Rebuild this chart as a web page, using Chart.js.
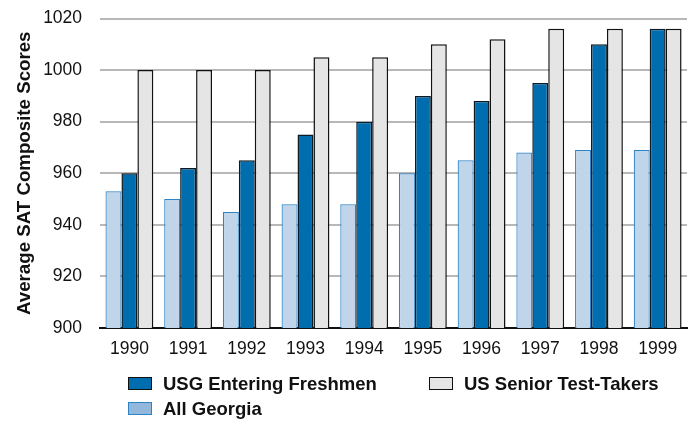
<!DOCTYPE html>
<html>
<head>
<meta charset="utf-8">
<script src="https://cdn.jsdelivr.net/npm/chart.js@4/dist/chart.umd.min.js"></script>
<style>
  html,body{margin:0;padding:0;background:#fff;}
  #wrap{position:relative;width:693px;height:421px;}
  canvas{display:block;}
  #legend{position:absolute;left:0;top:0;width:693px;height:421px;pointer-events:none;
    font-family:"Liberation Sans",Arial,sans-serif;font-weight:bold;font-size:18.5px;color:#111;}
  .item{position:absolute;display:flex;align-items:center;white-space:nowrap;height:21px;}
  .box{width:24px;height:13px;margin-right:11px;box-sizing:border-box;}
</style>
</head>
<body>
<div id="wrap">
  <canvas id="c" width="693" height="421"></canvas>
  <div id="legend"></div>
</div>
<script>
const categories = ["1990","1991","1992","1993","1994","1995","1996","1997","1998","1999"];
const allGeorgia = [953, 950, 945, 948, 948, 960, 965, 968, 969, 969];
const usgFreshmen = [960, 962, 965, 975, 980, 990, 988, 995, 1010, 1016];
const usSenior = [1000, 1000, 1000, 1005, 1005, 1010, 1012, 1016, 1016, 1016];
const yTicks = [900, 920, 940, 960, 980, 1000, 1020];
const seriesNames = ["All Georgia", "USG Entering Freshmen", "US Senior Test-Takers"];

const FONT = '"Liberation Sans", Arial, sans-serif';

new Chart(document.getElementById('c'), {
  type: 'bar',
  data: {
    labels: categories,
    datasets: [
      { label: seriesNames[0], data: allGeorgia, backgroundColor: '#c1d5ea', borderColor: '#2c84c4', borderWidth: 1.2 },
      { label: seriesNames[1], data: usgFreshmen, backgroundColor: '#006dae', borderColor: '#0a1a26', borderWidth: 1.5 },
      { label: seriesNames[2], data: usSenior, backgroundColor: '#e5e5e5', borderColor: '#111111', borderWidth: 1.5 }
    ]
  },
  options: {
    responsive: false,
    animation: false,
    events: [],
    layout: { padding: { top: 18.5, right: 6, bottom: 51, left: 13.8 } },
    datasets: { bar: { barPercentage: 1.0, categoryPercentage: 0.815, borderSkipped: 'bottom' } },
    plugins: { legend: { display: false }, tooltip: { enabled: false } },
    scales: {
      x: {
        grid: { display: false, drawTicks: false },
        border: { display: true, color: '#111', width: 2 },
        ticks: { color: '#111', font: { family: FONT, size: 17.5 }, padding: 10.5 }
      },
      y: {
        min: 900, max: 1020,
        afterBuildTicks: (axis) => { axis.ticks = yTicks.map(v => ({ value: v })); },
        grid: { color: '#b8b8b8', lineWidth: 2, drawTicks: true, tickLength: 15, tickColor: 'rgba(0,0,0,0)' },
        border: { display: false },
        ticks: { color: '#111', font: { family: FONT, size: 17.5 }, padding: 3,
                 callback: (v) => String(v) },
        title: { display: true, text: 'Average SAT Composite Scores', color: '#111',
                 font: { family: FONT, size: 18.7, weight: 'bold' }, padding: { top: 0, bottom: 3.9 } }
      }
    }
  }
});

// HTML legend (column-major layout like the reference)
const legendItems = [
  { name: seriesNames[1], fill: '#006dae', border: '#111', left: 128, top: 373 },
  { name: seriesNames[0], fill: '#94b8dc', border: '#2c84c4', left: 128, top: 398 },
  { name: seriesNames[2], fill: '#e5e5e5', border: '#111', left: 429, top: 373 }
];
const lg = document.getElementById('legend');
legendItems.forEach(it => {
  const d = document.createElement('div');
  d.className = 'item';
  d.style.left = it.left + 'px';
  d.style.top = it.top + 'px';
  const b = document.createElement('span');
  b.className = 'box';
  b.style.background = it.fill;
  b.style.border = '1.5px solid ' + it.border;
  const t = document.createElement('span');
  t.textContent = it.name;
  d.appendChild(b); d.appendChild(t);
  lg.appendChild(d);
});
</script>
</body>
</html>
